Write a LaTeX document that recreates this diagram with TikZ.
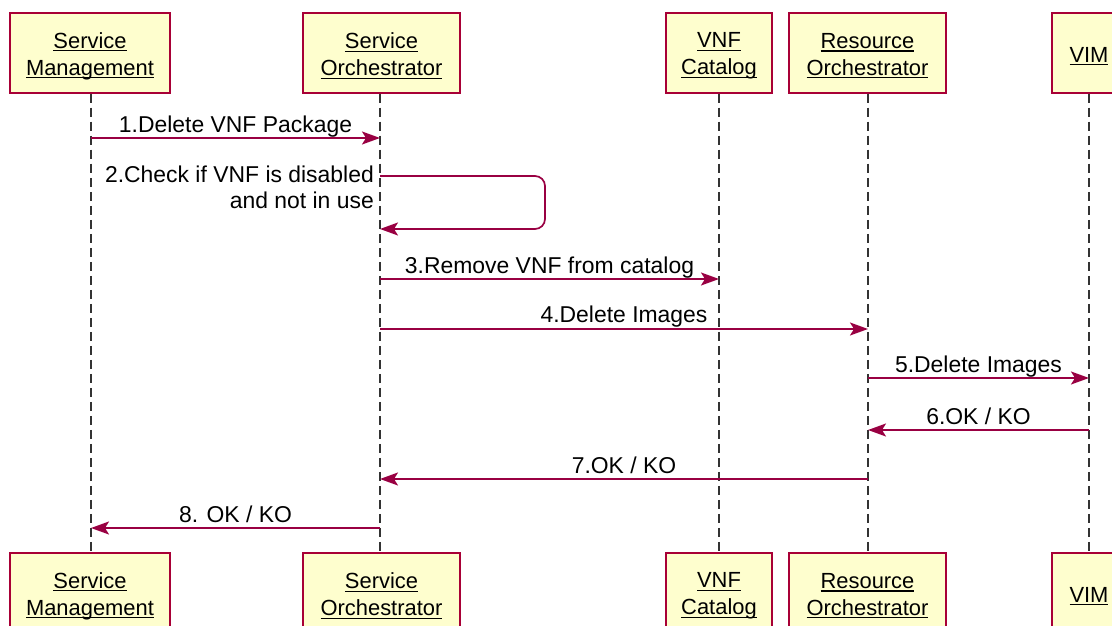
\documentclass[tikz,border=0pt]{standalone}
\usepackage{fontspec}
\setmainfont{Liberation Sans}
\usetikzlibrary{arrows.meta}
\definecolor{pborder}{HTML}{A80036}
\definecolor{parrow}{HTML}{990042}
\definecolor{pfill}{HTML}{FEFECE}
\newcommand\utext[1]{\setbox0\hbox{#1}\leavevmode\rlap{\rule[-3bp]{\wd0}{1.2bp}}\box0}
\begin{document}
\begin{tikzpicture}[x=1bp,y=-1bp,
  part/.style={draw=pborder, fill=pfill, line width=1.5bp, minimum height=80bp, inner sep=0pt},
  ptext/.style={align=center, inner sep=0pt, font=\fontsize{22}{27}\selectfont, yshift=-3bp},
  life/.style={dash pattern=on 9bp off 5bp, line width=1.4bp, black!80},
  msg/.style={draw=parrow, line width=1.7bp, -{Stealth[length=18bp,width=13bp,inset=4bp]}},
  lbl/.style={font=\fontsize{23}{27}\selectfont, anchor=base, inner sep=0pt}]
\useasboundingbox (0,0) rectangle (1112,626);
\clip (0,0) rectangle (1112,626);
% lifeline positions
\coordinate (smx) at (91,0);
\coordinate (sox) at (380,0);
\coordinate (vcx) at (719,0);
\coordinate (rox) at (868,0);
\coordinate (vix) at (1089,0);
% top participants
\node[part, minimum width=160bp, label={[ptext]center:\utext{Service}\\\utext{Management}}] (SMt) at (90,53) {};
\node[part, minimum width=157bp, label={[ptext]center:\utext{Service}\\\utext{Orchestrator}}] (SOt) at (381.5,53) {};
\node[part, minimum width=106bp, label={[ptext]center:\utext{VNF}\\\utext{Catalog}}] (VCt) at (719,53) {};
\node[part, minimum width=157bp, label={[ptext]center:\utext{Resource}\\\utext{Orchestrator}}] (ROt) at (867.5,53) {};
\node[part, minimum width=74bp, label={[ptext]center:\utext{VIM}}] (VIt) at (1089,53) {};
% bottom participants
\node[part, minimum width=160bp, label={[ptext]center:\utext{Service}\\\utext{Management}}] (SMb) at (90,593) {};
\node[part, minimum width=157bp, label={[ptext]center:\utext{Service}\\\utext{Orchestrator}}] (SOb) at (381.5,593) {};
\node[part, minimum width=106bp, label={[ptext]center:\utext{VNF}\\\utext{Catalog}}] (VCb) at (719,593) {};
\node[part, minimum width=157bp, label={[ptext]center:\utext{Resource}\\\utext{Orchestrator}}] (ROb) at (867.5,593) {};
\node[part, minimum width=74bp, label={[ptext]center:\utext{VIM}}] (VIb) at (1089,593) {};
% lifelines
\draw[life] (smx |- SMt.south) -- (smx |- SMb.north);
\draw[life] (sox |- SOt.south) -- (sox |- SOb.north);
\draw[life] (vcx |- VCt.south) -- (vcx |- VCb.north);
\draw[life] (rox |- ROt.south) -- (rox |- ROb.north);
\draw[life] (vix |- VIt.south) -- (vix |- VIb.north);
% messages
\draw[msg] (smx |- 0,138) -- (sox |- 0,138) node[lbl, midway, yshift=5bp] {1.Delete VNF Package};
\draw[msg, rounded corners=10bp] (sox |- 0,176) -- (545,176) -- (545,229) -- (sox |- 0,229);
\node[lbl, anchor=base east, align=right] (m2) at (374,209) {2.Check if VNF is disabled\\and not in use};
\draw[msg] (sox |- 0,279) -- (vcx |- 0,279) node[lbl, midway, yshift=5bp] {3.Remove VNF from catalog};
\draw[msg] (sox |- 0,329) -- (rox |- 0,329) node[lbl, midway, yshift=6bp] {4.Delete Images};
\draw[msg] (rox |- 0,378) -- (vix |- 0,378) node[lbl, midway, yshift=6bp] {5.Delete Images};
\draw[msg] (vix |- 0,430) -- (rox |- 0,430) node[lbl, midway, yshift=6bp] {6.OK / KO};
\draw[msg] (rox |- 0,479) -- (sox |- 0,479) node[lbl, midway, yshift=6bp] {7.OK / KO};
\draw[msg] (sox |- 0,528) -- (smx |- 0,528) node[lbl, midway, yshift=6bp] {8. OK / KO};
\end{tikzpicture}
\end{document}
